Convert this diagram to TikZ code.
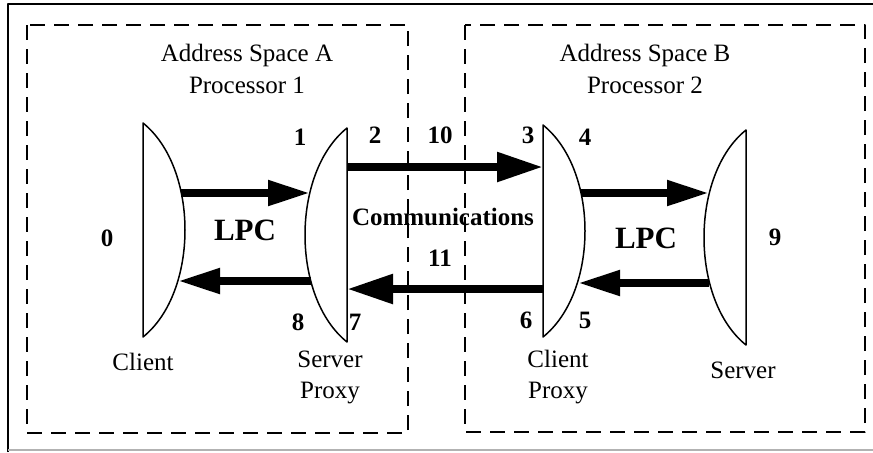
\documentclass[tikz,border=0pt]{standalone}
\usepackage{fontspec}
\setmainfont{Liberation Serif}
\usetikzlibrary{arrows.meta}

\begin{document}
\begin{tikzpicture}[x=0.5pt,y=-0.5pt,line join=round,
        font=\fontsize{12.5}{15.5}\selectfont,
        space/.style={draw,line width=0.8pt,dash pattern=on 7.5pt off 4.5pt},
        lens/.style={draw,line width=0.75pt,fill=white},
        num/.style={font=\fontsize{12.5}{15.5}\selectfont\bfseries},
        lpc/.style={font=\fontsize{15.5}{18}\selectfont\bfseries},
        call/.style={line width=4pt,-{Triangle[length=21pt,width=12pt]}},
        comm/.style={line width=4.2pt,-{Triangle[length=23pt,width=14pt]}}]
        \useasboundingbox (0,0) rectangle (873,452);
        % frame
        \draw[line width=1.2pt] (8,452) -- (8,4) -- (873,4);
        \draw[gray!60,line width=1pt] (8,450) -- (873,450);
        % address spaces
        \draw[space] (27,25) rectangle (408,433);
        \draw[space] (465,25) rectangle (865,432);
        \node (spaceA) at (247,55) {Address Space A};
        \node (procA) at (247,85) {Processor 1};
        \node (spaceB) at (645,55) {Address Space B};
        \node (procB) at (645,85) {Processor 2};
        % stubs
        \draw[lens] (143,123) .. controls +(56,45) and +(56,-45) .. (143,337) -- cycle;
        \draw[lens] (347,128) .. controls +(-56,45) and +(-56,-45) .. (347,342) -- cycle;
        \draw[lens] (543,125) .. controls +(56,45) and +(56,-45) .. (543,337) -- cycle;
        \draw[lens] (746,130) .. controls +(-56,45) and +(-56,-45) .. (746,345) -- cycle;
        \coordinate (cl1) at (181,193); \coordinate (sp1) at (310,193);
        \coordinate (sp8) at (311,281); \coordinate (cl8) at (178,281);
        \coordinate (sp2) at (347,167); \coordinate (cp3) at (543,167);
        \coordinate (cp6) at (543,289); \coordinate (sp7) at (347,289);
        \coordinate (cp4) at (581,193); \coordinate (sv4) at (709,193);
        \coordinate (sv5) at (709,283); \coordinate (cp5) at (578,283);
        % calls
        \draw[call] (cl1) -- (sp1);
        \draw[call] (sp8) -- (cl8);
        \draw[comm] (sp2) -- (cp3);
        \draw[comm] (cp6) -- (sp7);
        \draw[call] (cp4) -- (sv4);
        \draw[call] (sv5) -- (cp5);
        % labels
        \node[lpc] (lpcA) at (245,230) {LPC};
        \node[lpc] (lpcB) at (646,238) {LPC};
        \node[num] (comms) at (443,217) {Communications};
        \node[num] (n0) at (107,238) {0};
        \node[num] (n1) at (300,137) {1};
        \node[num] (n2) at (375,135) {2};
        \node[num] (n10) at (440,135) {10};
        \node[num] (n3) at (528,135) {3};
        \node[num] (n4) at (585,137) {4};
        \node[num] (n11) at (440,258) {11};
        \node[num] (n8) at (298,322) {8};
        \node[num] (n7) at (355,322) {7};
        \node[num] (n6) at (526,320) {6};
        \node[num] (n5) at (585,320) {5};
        \node[num] (n9) at (775,237) {9};
        \node (client) at (143,362) {Client};
        \node[align=center] (sproxy) at (330,377) {Server\\Proxy};
        \node[align=center] (cproxy) at (558,377) {Client\\Proxy};
        \node (server) at (743,370) {Server};
\end{tikzpicture}
\end{document}
